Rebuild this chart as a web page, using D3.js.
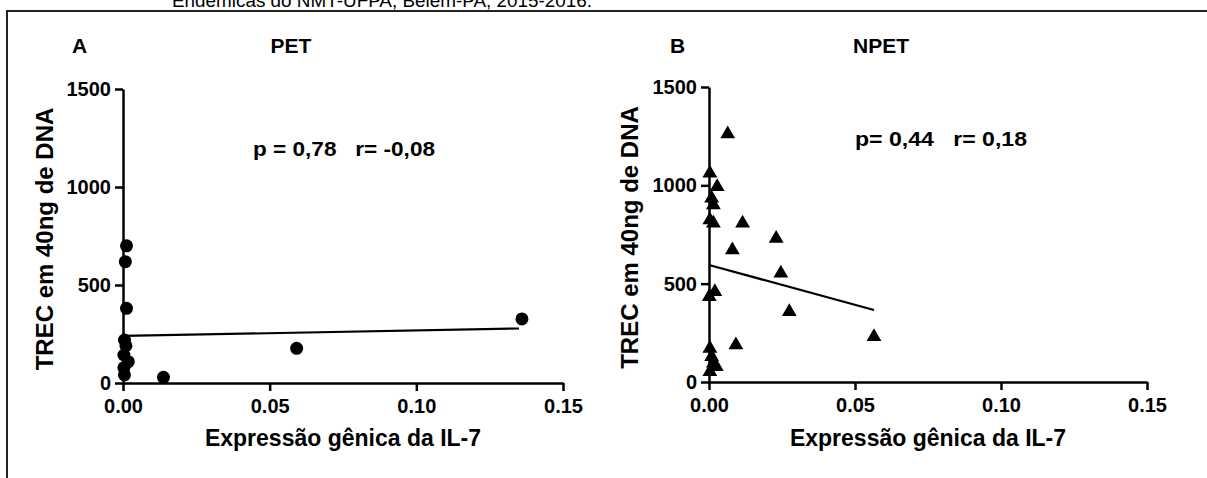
<!DOCTYPE html>
<html><head><meta charset="utf-8">
<script src="https://cdn.jsdelivr.net/npm/d3@7"></script>
<style>
html,body{margin:0;padding:0;background:#fff;overflow:hidden}
text{font-family:"Liberation Sans",Arial,sans-serif}
</style></head>
<body>
<svg id="c" width="1207" height="478"></svg>
<script>
// ---- data ----
const captionText = "Endêmicas do NMT-UFPA, Belém-PA, 2015-2016.";
const panelLetters = ["A", "B"];
const panelTitles = ["PET", "NPET"];
const statsText = ["p = 0,78   r= -0,08", "p= 0,44   r= 0,18"];
const yTitle = "TREC em 40ng de DNA";
const xTitle = "Expressão gênica da IL-7";
const xTicks = [0, 0.05, 0.10, 0.15];
const yTicks = [0, 500, 1000, 1500];

const petX = [0.0012, 0.0008, 0.0012, 0.0005, 0.0010, 0.0003, 0.0018, 0.0003, 0.0005, 0.0138, 0.0592, 0.136];
const petY = [700, 619, 381, 219, 190, 143, 109, 78, 41, 29, 177, 327];
const petFit = [[0, 240], [0.135, 278]];

const npetX = [0.0064, 0.0003, 0.0028, 0.0009, 0.0015, 0.0003, 0.0015, 0.0115, 0.023, 0.008, 0.0246, 0.002, 0.0001, 0.0275, 0.0092, 0.0565, 0.0003, 0.0009, 0.0015, 0.0025, 0.0003];
const npetY = [1261, 1061, 993, 934, 900, 824, 807, 807, 730, 671, 553, 459, 434, 357, 188, 230, 171, 129, 95, 78, 52];
const npetFit = [[0, 595], [0.0565, 366]];

const svg = d3.select("#c");

// frame
svg.append("path").attr("d", "M7,478 V11 H1207").attr("fill", "none").attr("stroke", "#222").attr("stroke-width", 2);
// caption, partly cut off at the top like the reference
svg.append("text").attr("x", 172).attr("y", 7).attr("font-size", 19).attr("fill", "#000")
  .attr("textLength", 420).attr("lengthAdjust", "spacingAndGlyphs").text(captionText);

const panels = [
  {xs: petX, ys: petY, fit: petFit, xr: [123, 563], yr: [383, 89], sym: "circle",
   letterX: 72, titleX: 291, statX: 253, statY: 156, statLen: 182, yTitleX: 53},
  {xs: npetX, ys: npetY, fit: npetFit, xr: [709, 1147], yr: [382, 87], sym: "triangle",
   letterX: 670, titleX: 881, statX: 855, statY: 146, statLen: 172, yTitleX: 638}
];

panels.forEach((p, i) => {
  const x = d3.scaleLinear().domain([0, 0.15]).range(p.xr);
  const y = d3.scaleLinear().domain([0, 1500]).range(p.yr);
  const g = svg.append("g");

  const ya = g.append("g").attr("transform", `translate(${p.xr[0]},0)`)
    .call(d3.axisLeft(y).tickValues(yTicks).tickSize(8).tickSizeOuter(0).tickPadding(4).tickFormat(d3.format("d")));
  const xa = g.append("g").attr("transform", `translate(0,${p.yr[0]})`)
    .call(d3.axisBottom(x).tickValues(xTicks).tickSize(8).tickSizeOuter(0).tickPadding(8).tickFormat(d3.format(".2f")));
  [ya, xa].forEach(a => {
    a.select(".domain").attr("stroke", "#000").attr("stroke-width", 2.5);
    a.selectAll(".tick line").attr("stroke", "#000").attr("stroke-width", 2.5);
    a.selectAll(".tick text").attr("fill", "#000").attr("font-size", 20).attr("font-weight", "bold")
      .style("font-family", '"Liberation Sans", Arial, sans-serif');
  });

  // regression line
  g.append("line")
    .attr("x1", x(p.fit[0][0])).attr("y1", y(p.fit[0][1]))
    .attr("x2", x(p.fit[1][0])).attr("y2", y(p.fit[1][1]))
    .attr("stroke", "#000").attr("stroke-width", 2.2);

  // points
  const pts = p.xs.map((v, k) => [v, p.ys[k]]);
  if (p.sym === "circle") {
    g.selectAll("circle.pt").data(pts).join("circle").attr("class", "pt")
      .attr("cx", d => x(d[0])).attr("cy", d => y(d[1])).attr("r", 6.5).attr("fill", "#000");
  } else {
    const tri = d3.symbol().type(d3.symbolTriangle).size(95);
    g.selectAll("path.pt").data(pts).join("path").attr("class", "pt")
      .attr("d", tri).attr("transform", d => `translate(${x(d[0])},${y(d[1])})`).attr("fill", "#000");
  }

  // texts
  g.append("text").attr("x", p.letterX).attr("y", 53).attr("font-size", 21).attr("font-weight", "bold").text(panelLetters[i]);
  g.append("text").attr("x", p.titleX).attr("y", 53).attr("text-anchor", "middle").attr("font-size", 21).attr("font-weight", "bold").text(panelTitles[i]);
  g.append("text").attr("x", p.statX).attr("y", p.statY).attr("font-size", 21).attr("font-weight", "bold")
    .attr("xml:space", "preserve").style("white-space", "pre")
    .attr("textLength", p.statLen).attr("lengthAdjust", "spacingAndGlyphs").text(statsText[i]);
  g.append("text").attr("transform", `translate(${p.yTitleX},${(p.yr[0] + p.yr[1]) / 2 + 3}) rotate(-90)`)
    .attr("text-anchor", "middle").attr("font-size", 24).attr("font-weight", "bold").text(yTitle);
  g.append("text").attr("x", (p.xr[0] + p.xr[1]) / 2).attr("y", 446).attr("text-anchor", "middle")
    .attr("font-size", 23).attr("font-weight", "bold").text(xTitle);
});
</script>
</body></html>
